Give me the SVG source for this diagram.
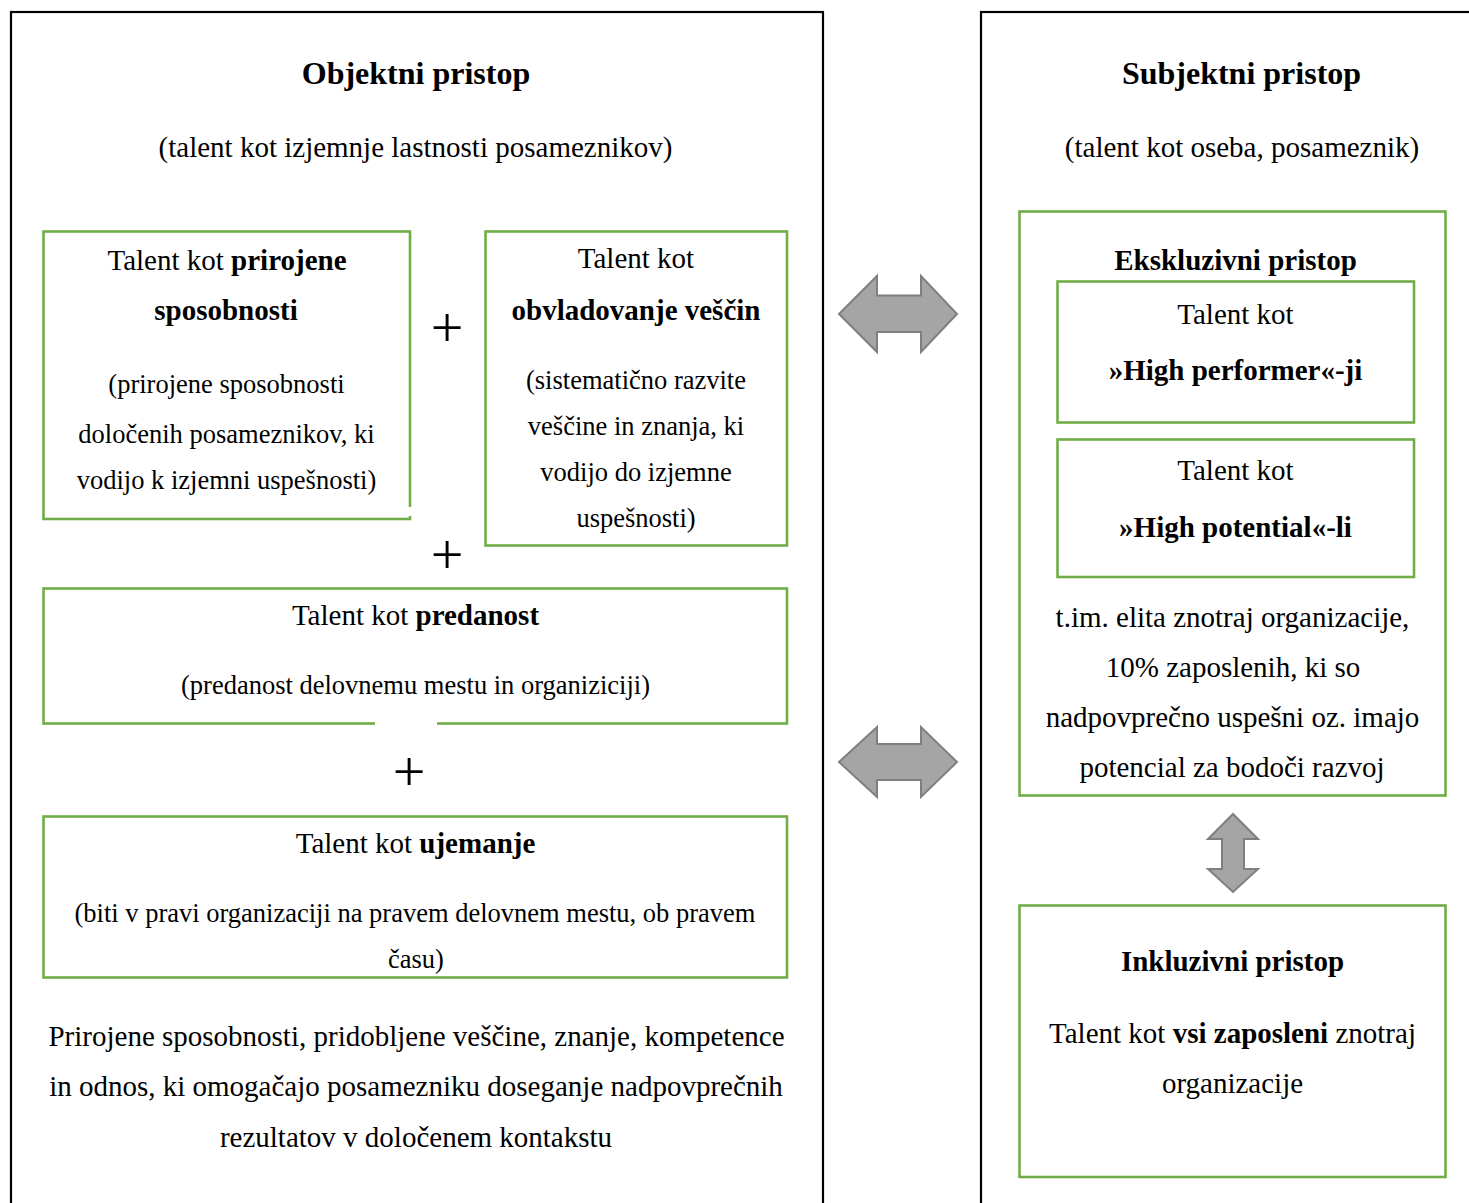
<svg xmlns="http://www.w3.org/2000/svg" width="1469" height="1203" viewBox="0 0 1469 1203">
<style>
text{font-family:"Liberation Serif","Times New Roman",serif;fill:#000;text-anchor:middle}
.t{font-size:32px;font-weight:bold}
.b{font-size:29px}
.s{font-size:26.5px}
.bd{font-weight:bold}
.plus{font-size:58px}
.panel{fill:none;stroke:#000;stroke-width:2.2}
.gbox{fill:#fff;stroke:#70ad47;stroke-width:2.6}
.arr{fill:#a5a5a5;stroke:#7f7f7f;stroke-width:2;stroke-linejoin:miter}
</style>
<rect width="1469" height="1203" fill="#fff"/>

<g id="objektni">
<rect class="panel" x="11" y="12" width="812" height="1220"/>
<text class="t" x="416" y="84">Objektni pristop</text>
<text class="b" x="415.5" y="157">(talent kot izjemnje lastnosti posameznikov)</text>
</g>

<g id="prirojene">
<rect class="gbox" x="43.5" y="231.5" width="366.5" height="287.5"/>
<rect x="407" y="507" width="6" height="9" fill="#fff"/>
<text class="b" x="227" y="270">Talent kot <tspan class="bd">prirojene</tspan></text>
<text class="b bd" x="226" y="320">sposobnosti</text>
<text class="s" x="226.5" y="393">(prirojene sposobnosti</text>
<text class="s" x="226.5" y="443">določenih posameznikov, ki</text>
<text class="s" x="226.5" y="489">vodijo k izjemni uspešnosti)</text>
</g>

<g id="vescine">
<rect class="gbox" x="485.5" y="231.5" width="301.5" height="314"/>
<text class="b" x="636" y="268">Talent kot</text>
<text class="b bd" x="636" y="320">obvladovanje veščin</text>
<text class="s" x="636" y="389">(sistematično razvite</text>
<text class="s" x="636" y="435">veščine in znanja, ki</text>
<text class="s" x="636" y="481">vodijo do izjemne</text>
<text class="s" x="636" y="527">uspešnosti)</text>
</g>

<g id="plus1"><text class="plus" x="447" y="347">+</text></g>
<g id="plus2"><text class="plus" x="447" y="574">+</text></g>

<g id="predanost">
<rect class="gbox" x="43.5" y="588.5" width="743.5" height="135"/>
<rect x="375" y="721" width="62" height="5" fill="#fff"/>
<text class="b" x="415.5" y="625">Talent kot <tspan class="bd">predanost</tspan></text>
<text class="s" x="415.5" y="694">(predanost delovnemu mestu in organiziciji)</text>
</g>

<g id="plus3"><text class="plus" x="409" y="791">+</text></g>

<g id="ujemanje">
<rect class="gbox" x="43.5" y="816.5" width="743.5" height="161"/>
<text class="b" x="415.5" y="853">Talent kot <tspan class="bd">ujemanje</tspan></text>
<text class="s" x="415" y="922">(biti v pravi organizaciji na pravem delovnem mestu, ob pravem</text>
<text class="s" x="416" y="968">času)</text>
</g>

<g id="definicija">
<text class="b" x="416.5" y="1046">Prirojene sposobnosti, pridobljene veščine, znanje, kompetence</text>
<text class="b" x="416" y="1096">in odnos, ki omogačajo posamezniku doseganje nadpovprečnih</text>
<text class="b" x="416" y="1147">rezultatov v določenem kontakstu</text>
</g>

<g id="subjektni">
<rect class="panel" x="981" y="12" width="600" height="1220"/>
<text class="t" x="1241.5" y="84">Subjektni pristop</text>
<text class="b" x="1242" y="157">(talent kot oseba, posameznik)</text>
</g>

<g id="ekskluzivni">
<rect class="gbox" x="1019.5" y="211.5" width="426" height="584"/>
<text class="b bd" x="1235.5" y="270">Ekskluzivni pristop</text>
<text class="b" x="1232.5" y="627">t.im. elita znotraj organizacije,</text>
<text class="b" x="1233" y="677">10% zaposlenih, ki so</text>
<text class="b" x="1232.5" y="727">nadpovprečno uspešni oz. imajo</text>
<text class="b" x="1232" y="777">potencial za bodoči razvoj</text>
</g>

<g id="highperformer">
<rect class="gbox" x="1057.5" y="281.5" width="356.5" height="141"/>
<text class="b" x="1235.5" y="324">Talent kot</text>
<text class="b bd" x="1235.5" y="380">»High performer«-ji</text>
</g>

<g id="highpotential">
<rect class="gbox" x="1057.5" y="439.5" width="356.5" height="137.5"/>
<text class="b" x="1235.5" y="480">Talent kot</text>
<text class="b bd" x="1235.5" y="537">»High potential«-li</text>
</g>

<g id="inkluzivni">
<rect class="gbox" x="1019.5" y="905.5" width="426" height="271.5"/>
<text class="b bd" x="1232.5" y="971">Inkluzivni pristop</text>
<text class="b" x="1232.5" y="1043">Talent kot <tspan class="bd">vsi zaposleni</tspan> znotraj</text>
<text class="b" x="1232.5" y="1093">organizacije</text>
</g>

<g id="connectors">
<polygon class="arr" points="839,314 877,276 877,295.5 921,295.5 921,276 957,314 921,352 921,332 877,332 877,352"/>
<polygon class="arr" points="839,762 877,727 877,744 921,744 921,727 957,762 921,797 921,780 877,780 877,797"/>
<polygon class="arr" points="1233,814 1258,839 1244,839 1244,869 1258,869 1233,892 1208,869 1222,869 1222,839 1208,839"/>
</g>
</svg>
